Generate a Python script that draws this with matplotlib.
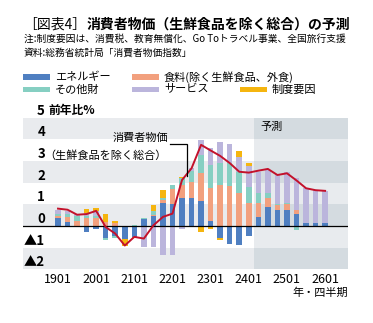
import matplotlib
matplotlib.use('Agg')
import matplotlib.pyplot as plt
from matplotlib.patches import Rectangle
import numpy as np

plt.rcParams['font.family'] = ['Noto Sans CJK JP', 'DejaVu Sans']

# ---------------- data ----------------
quarters = ['1901', '1902', '1903', '1904', '2001', '2002', '2003', '2004',
            '2101', '2102', '2103', '2104', '2201', '2202', '2203', '2204',
            '2301', '2302', '2303', '2304', '2401', '2402', '2403', '2404',
            '2501', '2502', '2503', '2504', '2601']
tick_labels = ['1901', '2001', '2101', '2201', '2301', '2401', '2501', '2601']
forecast_start = '2402'

energy = [0.37, 0.20, -0.05, -0.28, -0.15, -0.55, -0.48, -0.58,
          -0.50, 0.30, 0.45, 1.06, 1.02, 1.30, 1.28, 1.17,
          0.25, -0.57, -0.83, -0.88, -0.46, 0.40, 0.89, 0.74,
          0.74, 0.55, 0.15, 0.15, 0.15]
food = [0.10, 0.20, 0.25, 0.35, 0.35, 0.20, 0.15, 0.00,
        0.00, 0.00, 0.05, 0.12, 0.70, 0.60, 0.77, 1.29,
        1.49, 1.89, 1.85, 1.50, 1.08, 0.65, 0.38, 0.23,
        0.28, 0.18, 0.00, 0.00, 0.00]
other_goods = [0.08, 0.15, 0.20, 0.10, 0.10, -0.08, -0.07, 0.02,
               0.05, 0.07, 0.20, 0.10, 0.18, 0.30, 0.50, 0.82,
               1.08, 1.00, 1.07, 1.00, 0.74, 0.45, 0.23, 0.05,
               0.05, -0.18, 0.00, 0.00, 0.00]
services = [0.20, 0.15, 0.08, 0.15, 0.22, 0.00, 0.00, 0.00,
            0.00, -0.95, -0.95, -1.32, -1.32, -0.15, 0.10, 0.69,
            0.77, 1.00, 0.85, 0.70, 0.95, 1.00, 1.08, 1.38,
            1.42, 1.46, 1.58, 1.50, 1.47]
policy = [0.00, 0.00, 0.00, 0.20, 0.18, 0.35, 0.10, -0.33,
          -0.05, 0.00, 0.25, 0.38, 0.00, 0.05, 0.00, -0.26,
          -0.15, -0.08, 0.00, 0.25, 0.12, 0.00, 0.00, 0.00,
          0.00, 0.00, 0.00, 0.00, 0.00]
core_cpi = [0.80, 0.75, 0.52, 0.55, 0.70, -0.05, -0.35, -0.90,
            -0.50, -0.58, 0.03, 0.42, 0.57, 2.12, 2.66, 3.74,
            3.48, 3.23, 2.90, 2.50, 2.46, 2.55, 2.63, 2.35,
            2.43, 2.10, 1.74, 1.65, 1.62]

series_names = ['エネルギー', '食料(除く生鮮食品、外食)', 'その他財', 'サービス', '制度要因']
series_vals = [energy, food, other_goods, services, policy]
series_colors = ['#4f7fc1', '#f2a07e', '#86cfc2', '#bbb5dc', '#f5b50f']

# ---------------- figure ----------------
W, H = 373, 323
fig = plt.figure(figsize=(W / 100, H / 100), dpi=100)


def fx(px):
    return px / W


def fy(py):
    return 1 - py / H


L, R, T, B = 23, 348, 117.5, 269.4
ax = fig.add_axes([fx(L), fy(B), (R - L) / W, (B - T) / H])
x = np.arange(len(quarters))
xmin, xmax = -3.67, 30.4
ax.set_xlim(xmin, xmax)
ax.set_ylim(-2, 5)

# background bands
fc = quarters.index(forecast_start) - 0.5
for k in range(-2, 5):
    dark = (k % 2 == 0)
    ax.add_patch(Rectangle((xmin, k), fc - xmin, 1, facecolor='#e9ebee' if dark else '#ffffff',
                           edgecolor='none', zorder=0))
    ax.add_patch(Rectangle((fc, k), xmax - fc, 1, facecolor='#d4dbe0' if dark else '#e8ebee',
                           edgecolor='none', zorder=0))

# stacked bars
pos = np.zeros(len(x))
neg = np.zeros(len(x))
for vals, col in zip(series_vals, series_colors):
    v = np.array(vals)
    bottom = np.where(v >= 0, pos, neg)
    ax.bar(x, v, bottom=bottom, width=0.58, color=col, linewidth=0, zorder=2)
    pos = pos + np.where(v > 0, v, 0)
    neg = neg + np.where(v < 0, v, 0)

ax.axhline(0, color='black', lw=0.9, zorder=3)
ax.plot(x, core_cpi, color='#c3112b', lw=1.4, zorder=4, solid_joinstyle='round')

for s in ax.spines.values():
    s.set_visible(False)
ax.set_yticks([])
ax.set_xticks(x[::4], tick_labels)
ax.tick_params(axis='x', length=0, pad=2.5, labelsize=9)

# y labels inside the axes, just above each gridline
ytr = ax.get_yaxis_transform()
lab_x = (45 - L) / (R - L)
for v in range(-2, 6):
    lab = '▲%d' % -v if v < 0 else str(v)
    ax.annotate(lab, xy=(lab_x, v), xycoords=ytr, xytext=(0, 5), textcoords='offset points',
                ha='right', va='center', fontsize=9.5, fontweight='bold', annotation_clip=False)
ax.annotate('前年比%', xy=((48 - L) / (R - L), 5), xycoords=ytr, xytext=(0, 5),
            textcoords='offset points', ha='left', va='center', fontsize=8.5,
            fontweight='bold', annotation_clip=False)

# forecast label
ax.text(fc + 0.7, 4.56, '予測', fontsize=8, ha='left', va='center', zorder=5)

# line annotation
fig.text(fx(168), fy(138), '消費者物価', fontsize=8, ha='right', va='center')
fig.text(fx(167), fy(156), '（生鮮食品を除く総合）', fontsize=8, ha='right', va='center')


def dx(px):
    return xmin + (px - L) / (R - L) * (xmax - xmin)


def dy(py):
    return 5 - (py - T) / (B - T) * 7


ax.plot([dx(170), dx(186.5), dx(186.5)], [dy(144.3), dy(144.3), dy(176)], color='black',
        lw=0.9, zorder=5, solid_joinstyle='miter')

ax.text(1.0, -0.155, '年・四半期', transform=ax.transAxes, ha='right', va='center', fontsize=8)

# title and notes
t1 = fig.text(fx(23), fy(25), '［図表4］', fontsize=10, ha='left', va='center')
ax.annotate('消費者物価（生鮮食品を除く総合）の予測', xy=(1, 0.5), xycoords=t1, ha='left',
            va='center', fontsize=10, fontweight='bold', annotation_clip=False)
fig.text(fx(24), fy(39), '注:制度要因は、消費税、教育無償化、Go Toトラベル事業、全国旅行支援',
         fontsize=7, ha='left', va='center')
fig.text(fx(24), fy(53), '資料:総務省統計局「消費者物価指数」', fontsize=7, ha='left', va='center')

# legend
legend_pos = [(23, 77), (132, 77), (23, 89.5), (132, 89.5), (240, 89.5)]
for k, (px, py) in enumerate(legend_pos):
    fig.add_artist(Rectangle((fx(px), fy(py + 2.75)), 27 / W, 5.5 / H,
                             facecolor=series_colors[k], edgecolor='none', transform=fig.transFigure))
    fig.text(fx(px + 32), fy(py), series_names[k], fontsize=8, ha='left', va='center')

fig.savefig('out.png', dpi=100)
